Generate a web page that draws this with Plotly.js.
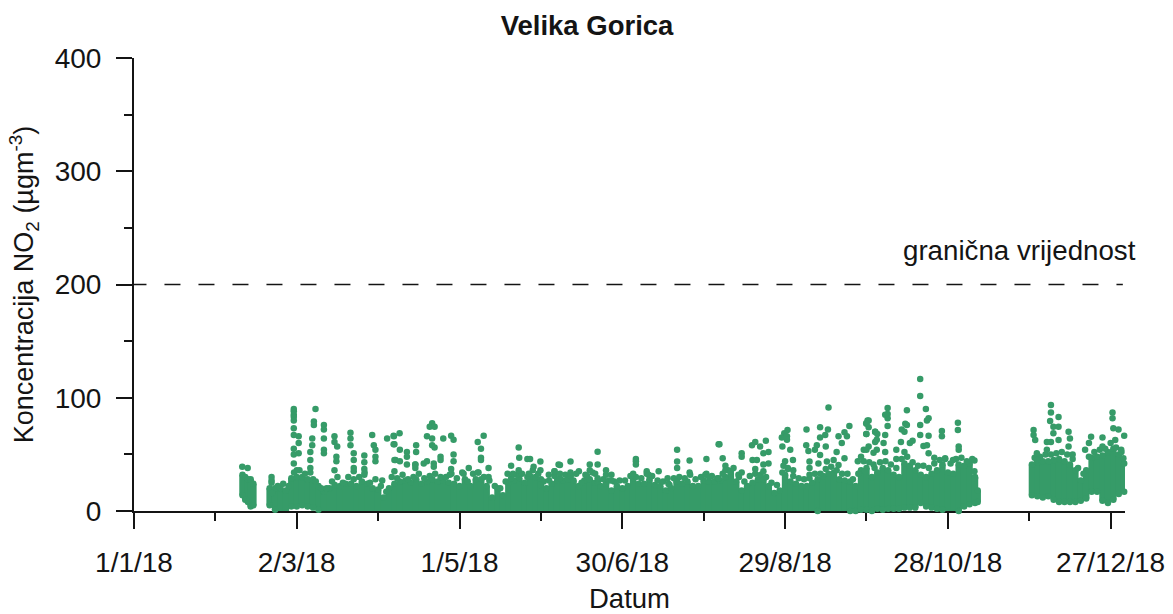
<!DOCTYPE html>
<html><head><meta charset="utf-8">
<script src="https://cdn.plot.ly/plotly-3.0.1.min.js"></script>
<style>html,body{margin:0;padding:0;background:#fff}#c{width:1173px;height:614px}</style></head>
<body><div id="c"></div>
<script>
const chartTitle = 'Velika Gorica';
const xTitle = 'Datum';
const yTitle = 'Koncentracija NO<sub>2</sub> (µgm<sup>-3</sup>)';
const limitLabel = 'granična vrijednost';
const limitValue = 200;
const majorTickDays = [0,60,120,180,240,300,360];
const majorTickLabels = ['1/1/18','2/3/18','1/5/18','30/6/18','29/8/18','28/10/18','27/12/18'];
const minorTickDays = [30,90,150,210,270,330];
const yMajor = [0,100,200,300,400];
const yMinor = [50,150,250,350];

// Isolated readings: day of year offset and NO2 value
const peakDays = [39.9,41.9,42.9,42.2,50.7,50.7,50.7,58.9,58.9,58.9,58.9,58.9,58.9,58.9,60.7,60.7,58.9,58.9,60.7,58.9,60,
66.9,66.3,66.3,65.7,65.7,65,65,65,70,70,70,70,70,73.9,73.9,74.9,74.6,74.6,73.9,79.8,79.8,79.8,81,81,81,81,84.9,84.9,84.9,84.9,87.8,88.4,89,89,89,93.3,95.8,96,96.4,96,91.5,
95.7,97.9,95.7,98,100.6,100.6,104,104,103.7,96,98,100.6,103.7,103.7,106.8,108,110.5,110.5,113,113,117.8,117.8,116.9,116.4,
109.9,109,110.8,108,109.9,109.9,110.8,114,116.9,117.8,123.4,121.5,126.7,128.9,127.9,127.9,127.9,126.7,130.7,130.7,
141.8,142,145,146,139,137.7,139.7,141.8,147.3,149.8,149.8,152.9,155,156.5,149.8,145.5,
170.9,160.9,157,155,157,160.9,164,168,168,170.9,170,174,174,176,176,170.9,166.4,185,185,185,184,189,189.7,193.4,196.7,197.4,200.2,200.2,200.2,204.8,204.8,200.2,211,210.6,212,215.5,215.5,
215.8,217,218,218,220,222.8,224,224,224,227.8,229,230.8,232.9,232,233.9,228,229.6,232,233.9,229,232,
240.9,239.7,238.8,240.7,240.7,239,241.9,240,242.9,239.4,241,243,247.9,247.8,248.6,251.7,251,252.9,252.9,254.8,255.8,256,255,252.9,249,249,249,252.3,255.4,259.7,261.9,263.7,262.8,260.9,259,261.9,259.7,257.9,266.8,268,269,270.8,273.2,
270,270.8,270,273.2,273.8,269.5,272.6,
289.8,289.8,277.8,277.8,277.8,276.9,284.9,291.9,292.3,292.9,270.4,269.9,270.8,277.8,284.3,284.9,283,284,289.8,289.8,292.9,297.8,297.8,303.7,303.7,304,304,269.9,273.2,274,276.9,273.8,276.3,282.7,286,287,284,281,281,291,292.3,292.9,295,299,301.9,309.8,309.8,310,270,272.6,276.9,
338,338,337.7,340.8,338.9,340.8,338.9,331.6,331.6,332.2,332.8,332.8,336.5,338,340.8,336.5,344.5,345,344.5,346,352.8,352,350.6,357,357,360.7,360.7,361,362.9,365,361.7,363.9,364.7];
const peakValues = [39,38,-6,-6.5,30,27,25,90,88,85,83,80,73,67,66,60,55,50,51,42,36,
90,79,76,64,58,52,45,38,76,72,64,54,51,66,61,57,48,44,36,69,64,58,51,45,38,35,49,43,37,32,67,58,54,48,44,64,66,59,45,35,27,
66.5,68.6,59,54,52,48,58,52,41,45,44,41,41,38,42,44,42,39,48,45,50,44,37,32,
77.4,74.5,74.5,66,64,58,56,64,66.5,63,38,33,61,66.5,55,47,45,34,38,30,
56,47,46,46,40,33,33,36,39,43.6,36,32,35,41,23,33,
52.4,43.6,40.6,35,33,34,35,41,36,41,33,36,32,32,27,29,32,46,44,41,33,35,32,35,29,23,54,43.6,38,44.5,34,26,46,32,30,59,29,
59,46.5,40,36,35,32,34,51,48,58,61,57,62,51,52,45,45,41,42,37,35,
71.5,68.6,65,66,63,57,54,44,45,40,38,36,72,58,53,58,54,74,49.5,67,72,91.5,57,65,43.6,38,32,42,43.6,66,69.5,75,66,60,52,46.5,40.6,45,44,48,54,57,61,
77,80,68,70,54,35,41,
116.5,101.6,91,85.7,82,85,89,90,80,82,80,77.5,74,75,77,76,72,70,76,67,66.5,70.7,66,78,71.5,57,54,68,70,68,67,63,60,61,60,62,52,54,46,57.4,58,51,47,46.6,45,44.5,35,29,54,51.5,52,
93.6,87,79.5,83,74.5,74.5,68.6,71.5,67,62.7,51,45,61,61,62.7,54,70,64,57,50,65.6,60,54,65,57,87,82,73,72,66.5,62.7,54,46.5];

// Uneven top of the dense mass, read between the sampled columns
const shoulderDays = [51,53,55,57,59,61,63,65,67,69,71,73,75,77,79,81,83,85,87,89,91,93,95,97,99,101,103,105,107,109,111,113,115,117,119,121,123,125,127,129,131,133,135,137,139,141,143,145,147,149,151,153,155,157,159,161,163,165,167,169,171,173,175,177,179,181,183,185,187,189,191,193,195,197,199,201,203,205,207,209,211,213,215,217,219,221,223,225,227,229,231,233,235,237,239,241,243,245,247,249,251,253,255,257,259,261,263,265,267,269,271,273,275,277,279,281,283,285,287,289,291,293,295,297,299,301,303,305,307,309,332,334,336,338,340,342,344,346,348,350,352,354,356,358,360,362,364,366];
const shoulderValues = [16,22,24,22,34,36,33,34,26,20,20,26,30,25,30,28,30,34,25,28,22,17,30,29,32,28,30,33,29,31,33,30,30,33,29,34,26,33,34,30,27,22,20,26,29,32,33,30,36,33,26,27,31,29,32,31,33,25,31,34,26,28,27,26,27,27,31,30,29,33,31,27,26,24,29,30,29,32,28,30,33,31,29,33,36,38,30,26,31,33,32,30,25,23,34,37,31,29,28,29,33,33,37,39,36,33,33,28,33,44,43,38,43,44,41,38,46,48,43,40,40,38,42,45,46,42,46,47,44,46,47,48,50,50,51,52,50,46,38,33,48,52,54,55,60,56,52,46];

// Dense mass: for each sampled day, lowest and highest reading of the continuous band
const bandDays = [40,41,42,43,44,50,52,54,56,58,60,62,64,66,68,70,72,74,76,78,80,82,84,86,88,90,92,94,96,98,100,102,104,106,108,110,112,114,116,118,120,122,124,126,128,130,132,134,136,138,140,142,144,146,148,150,152,154,156,158,160,162,164,166,168,170,172,174,176,178,180,182,184,186,188,190,192,194,196,198,200,202,204,206,208,210,212,214,216,218,220,222,224,226,228,230,232,234,236,238,240,242,244,246,248,250,252,254,256,258,260,262,264,266,268,270,272,274,276,278,280,282,284,286,288,290,292,294,296,298,300,302,304,306,308,310,311,331,333,335,337,339,341,343,345,347,349,351,353,355,357,359,361,363,365];
const bandLow = [14,10,8,4,5,5,1,-1,-1,4,4,5,4,3,1,-1,-5,-4,-3,-3,-3,-1,-2,-4,-3,-4,-2,-2,-3,-2,-2,-2,-2,-2,-1,-2,-2,-2,-2,-1,-2,-2,-3,-2,-2,-2,-2,-2,-3,-2,-2,-2,-2,-2,-2,-3,-2,-2,-2,-3,-2,-3,-2,-2,-2,-3,-3,-2,-3,-2,-3,-3,-2,-3,-2,-3,-2,-3,-2,-2,-2,-3,-2,-3,-2,-3,-2,-3,-3,-2,-2,-2,-2,-3,-2,-3,-2,-2,-2,-2,-1,-1,-1,-1,-1,-1,0,-1,-1,-1,-1,-1,0,0,1,1,0,2,1,2,2,2,3,3,3,7,4,3,2,1,-1,-1,0,4,6,7,8,14,13,12,13,10,8,8,8,8,9,11,17,17,9,7,10,15,17];
const bandHigh = [32,30,28,28,24,20,20,20,18,29,30,30,28,28,22,17,20,23,22,24,24,22,26,24,20,19,12,20,24,26,27,25,28,24,26,28,26,27,25,24,22,28,22,28,28,22,12,20,14,25,27,29,25,31,30,28,20,24,27,27,28,27,22,27,28,25,22,24,18,22,20,22,29,24,24,28,23,22,18,20,26,24,26,22,22,27,26,26,27,30,33,26,18,22,25,28,28,22,16,18,32,26,24,22,22,25,28,31,33,34,28,27,26,22,36,38,30,34,38,36,32,30,42,40,36,32,30,33,36,41,34,33,41,40,42,30,18,41,43,44,44,45,46,44,41,36,27,36,47,48,49,52,55,50,42];

const green = '#369B68';
const ink = '#141414';
const fontName = '"Liberation Sans", Arial, sans-serif';
const dot = {color:green, size:6.5};

const traces = [
  {type:'scatter', mode:'markers', x:bandDays, y:bandHigh, cliponaxis:false, hoverinfo:'skip', marker:dot,
   error_y:{type:'data', symmetric:false, array:bandHigh.map(()=>0),
            arrayminus:bandHigh.map((v,i)=>v-bandLow[i]), color:green, thickness:6.5, width:0}},
  {type:'scatter', mode:'markers', x:bandDays, y:bandLow, cliponaxis:false, hoverinfo:'skip', marker:dot},
  {type:'scatter', mode:'markers', x:shoulderDays, y:shoulderValues, cliponaxis:false, hoverinfo:'skip', marker:dot},
  {type:'scatter', mode:'markers', x:peakDays, y:peakValues, cliponaxis:false, hoverinfo:'skip', marker:dot},
  {type:'scatter', mode:'lines', x:[-1.3,364.5], y:[limitValue,limitValue], cliponaxis:false, hoverinfo:'skip',
   line:{color:ink, width:1.5, dash:'16px,18px'}}
];
const layout = {
  width:1173, height:614, showlegend:false,
  paper_bgcolor:'#fff', plot_bgcolor:'#fff',
  margin:{l:133.5, r:48, t:58, b:103},
  font:{family:fontName, color:ink, size:28},
  title:{text:'<b>'+chartTitle+'</b>', font:{size:27.5, family:fontName, color:ink}, x:587/1173, xanchor:'center', y:1-25/614, yanchor:'middle'},
  xaxis:{range:[0,365.3], showgrid:false, zeroline:false, showline:true, linecolor:ink, linewidth:2, layer:'below traces',
    tickmode:'array', tickvals:majorTickDays, ticktext:majorTickLabels, ticks:'outside', ticklen:16, tickwidth:2, tickcolor:ink,
    tickangle:0, ticklabelstandoff:9, tickfont:{size:28, family:fontName, color:ink},
    minor:{tickmode:'array', tickvals:minorTickDays, ticks:'outside', ticklen:8, tickwidth:2, tickcolor:ink, showgrid:false},
    title:{text:xTitle, font:{size:27.5, family:fontName, color:ink}, standoff:14}},
  yaxis:{range:[0,400], showgrid:false, zeroline:false, showline:true, linecolor:ink, linewidth:2,
    tickmode:'array', tickvals:yMajor, ticktext:yMajor.map(String), ticks:'outside', ticklen:16, tickwidth:2, tickcolor:ink,
    ticklabelstandoff:9, tickfont:{size:28, family:fontName, color:ink},
    minor:{tickmode:'array', tickvals:yMinor, ticks:'outside', ticklen:8, tickwidth:2, tickcolor:ink, showgrid:false},
    title:{text:yTitle, font:{size:27, family:fontName, color:ink}, standoff:13}},
  annotations:[{xref:'paper', yref:'paper', x:1.0131, y:(511-251)/453, text:limitLabel, showarrow:false, xanchor:'right', yanchor:'middle',
    font:{size:27.7, family:fontName, color:ink}}]
};
Plotly.newPlot('c', traces, layout, {displayModeBar:false, staticPlot:true});
</script></body></html>
